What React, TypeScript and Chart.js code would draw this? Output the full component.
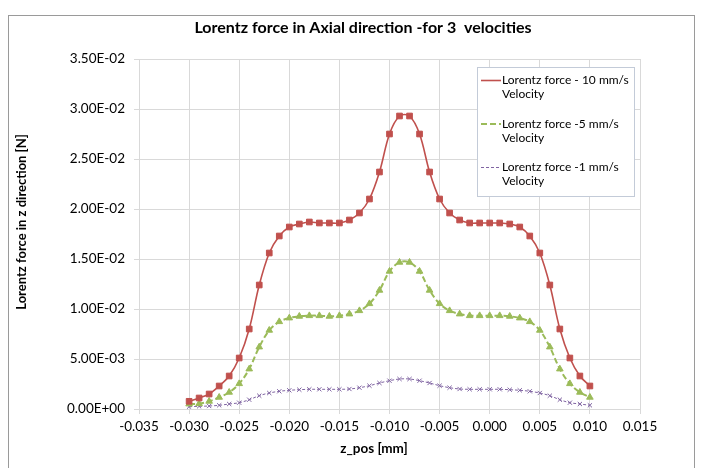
import React, { useEffect, useRef } from 'react';
import { Chart, registerables } from 'chart.js';
import { drawPoint } from 'chart.js/helpers';

Chart.register(...registerables);

const CHART_TITLE = 'Lorentz force in Axial direction -for 3  velocities';
const X_TITLE = 'z_pos [mm]';
const Y_TITLE = 'Lorentz force in z direction [N]';

const X_MIN = -0.035;
const X_MAX = 0.015;
const X_STEP = 0.005;
const Y_MIN = 0;
const Y_MAX = 0.035;
const Y_STEP = 0.005;

const Z_POS = [
  -0.030, -0.029, -0.028, -0.027, -0.026, -0.025, -0.024, -0.023, -0.022, -0.021,
  -0.020, -0.019, -0.018, -0.017, -0.016, -0.015, -0.014, -0.013, -0.012, -0.011,
  -0.010, -0.009, -0.008, -0.007, -0.006, -0.005, -0.004, -0.003, -0.002, -0.001,
  0.000, 0.001, 0.002, 0.003, 0.004, 0.005, 0.006, 0.007, 0.008, 0.009, 0.010,
];

const FORCE_10 = [
  0.00077, 0.0011, 0.0015, 0.0023, 0.0033, 0.0051, 0.0080, 0.0124, 0.0156, 0.0173,
  0.0182, 0.0185, 0.0187, 0.0186, 0.0186, 0.0186, 0.0189, 0.0196, 0.0210, 0.0237,
  0.0275, 0.0293, 0.0293, 0.0275, 0.0237, 0.0210, 0.0196, 0.0189, 0.0186, 0.0186,
  0.0186, 0.0186, 0.0185, 0.0182, 0.0173, 0.0156, 0.0124, 0.0080, 0.0051, 0.0033, 0.0023,
];

const FORCE_5 = [
  0.0005, 0.00053, 0.00077, 0.00117, 0.00167, 0.00253, 0.0040, 0.0062, 0.00787, 0.00873,
  0.0091, 0.00927, 0.00933, 0.00933, 0.00927, 0.00933, 0.0095, 0.00983, 0.01053, 0.01187,
  0.01377, 0.01467, 0.01467, 0.01377, 0.01187, 0.01053, 0.00983, 0.0095, 0.00933, 0.00933,
  0.00933, 0.00933, 0.00927, 0.0091, 0.00873, 0.00787, 0.0062, 0.0040, 0.00253, 0.00167, 0.00117,
];

const FORCE_1 = [
  0.00023, 0.00027, 0.0003, 0.00037, 0.0005, 0.00063, 0.00093, 0.00133, 0.0016, 0.00177,
  0.00187, 0.00193, 0.00197, 0.00197, 0.00197, 0.00197, 0.002, 0.00213, 0.00233, 0.0026,
  0.00283, 0.003, 0.003, 0.00283, 0.0026, 0.00233, 0.00213, 0.002, 0.00197, 0.00197,
  0.00197, 0.00197, 0.00193, 0.00187, 0.00177, 0.0016, 0.00133, 0.00093, 0.00063, 0.0005, 0.00037,
];

const SERIES_LABELS = [
  ['Lorentz force - 10 mm/s', 'Velocity'],
  ['Lorentz force -5 mm/s', 'Velocity'],
  ['Lorentz force -1 mm/s', 'Velocity'],
];

const FONT = 'Lato, "Open Sans", sans-serif';
const GRID = '#d9d9d9';

function sci(v: number): string {
  const s = v.toExponential(2);
  const [m, e] = s.split('e');
  const n = parseInt(e, 10);
  return m + 'E' + (n < 0 ? '-' : '+') + String(Math.abs(n)).padStart(2, '0');
}

function fixed3(v: number): string {
  if (Math.abs(v) < 1e-9) return '0.000';
  return v.toFixed(3);
}

const decorPlugin = {
  id: 'decor',
  beforeDraw(chart: any) {
    const ctx = chart.ctx;
    ctx.save();
    ctx.fillStyle = '#ffffff';
    ctx.fillRect(0, 0, chart.width, chart.height);
    ctx.strokeStyle = '#9a9a9a';
    ctx.lineWidth = 1;
    ctx.strokeRect(8.5, 15.5, 686, 470);
    ctx.restore();
  },
  afterDraw(chart: any) {
    const ctx = chart.ctx;
    ctx.save();
    ctx.fillStyle = '#000000';
    ctx.textAlign = 'center';
    ctx.textBaseline = 'middle';
    ctx.font = `bold 16px ${FONT}`;
    ctx.fillText(CHART_TITLE, 363, 28);
    ctx.font = `bold 13.5px ${FONT}`;
    ctx.fillText(X_TITLE, 374, 449);
    ctx.save();
    ctx.translate(22, 222);
    ctx.rotate(-Math.PI / 2);
    ctx.font = `bold 13px ${FONT}`;
    ctx.fillText(Y_TITLE, 0, 0);
    ctx.restore();

    const bx = 477.5, by = 67.5, bw = 157, bh = 129;
    ctx.fillStyle = '#ffffff';
    ctx.fillRect(bx, by, bw, bh);
    ctx.strokeStyle = '#c3cbd8';
    ctx.lineWidth = 1;
    ctx.strokeRect(bx, by, bw, bh);
    chart.data.datasets.forEach((ds: any, i: number) => {
      const y = 80.5 + i * 43.5;
      ctx.save();
      ctx.strokeStyle = ds.borderColor;
      ctx.lineWidth = ds.borderWidth;
      ctx.setLineDash(ds.borderDash || []);
      ctx.beginPath();
      ctx.moveTo(481, y);
      ctx.lineTo(501, y);
      ctx.stroke();
      ctx.setLineDash([]);
      ctx.fillStyle = ds.pointBackgroundColor;
      ctx.strokeStyle = ds.pointBorderColor;
      ctx.lineWidth = ds.pointBorderWidth;
      drawPoint(ctx, { pointStyle: ds.pointStyle, rotation: 0, borderWidth: ds.pointBorderWidth }, 491, y, ds.pointRadius);
      ctx.restore();
      ctx.fillStyle = '#000000';
      ctx.textAlign = 'left';
      ctx.textBaseline = 'middle';
      ctx.font = `12px ${FONT}`;
      SERIES_LABELS[i].forEach((t, j) => ctx.fillText(t, 502, y + j * 14));
    });
    ctx.restore();
  },
};

export default function App() {
  const ref = useRef<HTMLCanvasElement | null>(null);

  useEffect(() => {
    if (!ref.current) return;
    const mk = (vals: number[]) => Z_POS.map((x, i) => ({ x, y: vals[i] }));
    const chart = new Chart(ref.current, {
      type: 'line',
      data: {
        datasets: [
          {
            label: SERIES_LABELS[0].join(' '),
            data: mk(FORCE_10),
            borderColor: '#C0504D',
            backgroundColor: '#C0504D',
            borderWidth: 1.6,
            pointStyle: 'rect',
            pointRadius: 4,
            pointBackgroundColor: '#C0504D',
            pointBorderColor: '#C0504D',
            pointBorderWidth: 1,
            tension: 0.35,
          },
          {
            label: SERIES_LABELS[1].join(' '),
            data: mk(FORCE_5),
            borderColor: '#9BBB59',
            backgroundColor: '#9BBB59',
            borderWidth: 2,
            borderDash: [6, 3],
            pointStyle: 'triangle',
            pointRadius: 3.8,
            pointBackgroundColor: '#9BBB59',
            pointBorderColor: '#9BBB59',
            pointBorderWidth: 1,
            tension: 0.35,
          },
          {
            label: SERIES_LABELS[2].join(' '),
            data: mk(FORCE_1),
            borderColor: '#8064A2',
            backgroundColor: '#8064A2',
            borderWidth: 1,
            borderDash: [3, 2],
            pointStyle: 'crossRot',
            pointRadius: 3,
            pointBackgroundColor: '#8064A2',
            pointBorderColor: '#8064A2',
            pointBorderWidth: 1,
            tension: 0.35,
          },
        ],
      },
      options: {
        responsive: false,
        animation: false,
        devicePixelRatio: 1,
        layout: { padding: { top: 59, right: 66, left: 0, bottom: 0 } },
        plugins: {
          legend: { display: false },
          title: { display: false },
          tooltip: { enabled: false },
        },
        scales: {
          x: {
            type: 'linear',
            min: X_MIN,
            max: X_MAX,
            afterFit: (s: any) => { s.height = 59; },
            ticks: {
              stepSize: X_STEP,
              padding: 5,
              color: '#000000',
              font: { family: FONT, size: 13.5 },
              callback: (v: any) => fixed3(Number(v)),
            },
            grid: { color: GRID, tickLength: 5, lineWidth: 1 },
            border: { color: GRID },
          },
          y: {
            type: 'linear',
            min: Y_MIN,
            max: Y_MAX,
            afterFit: (s: any) => { s.width = 139; },
            ticks: {
              stepSize: Y_STEP,
              padding: 9,
              color: '#000000',
              font: { family: FONT, size: 13.5 },
              callback: (v: any) => sci(Number(v)),
            },
            grid: { color: GRID, tickLength: 5, lineWidth: 1 },
            border: { color: GRID },
          },
        },
      },
      plugins: [decorPlugin],
    });
    return () => chart.destroy();
  }, []);

  return (
    <div style={{ position: 'absolute', left: 0, top: 0, width: 706, height: 468, background: '#fff' }}>
      <canvas ref={ref} width={706} height={468} style={{ display: 'block' }} />
    </div>
  );
}
